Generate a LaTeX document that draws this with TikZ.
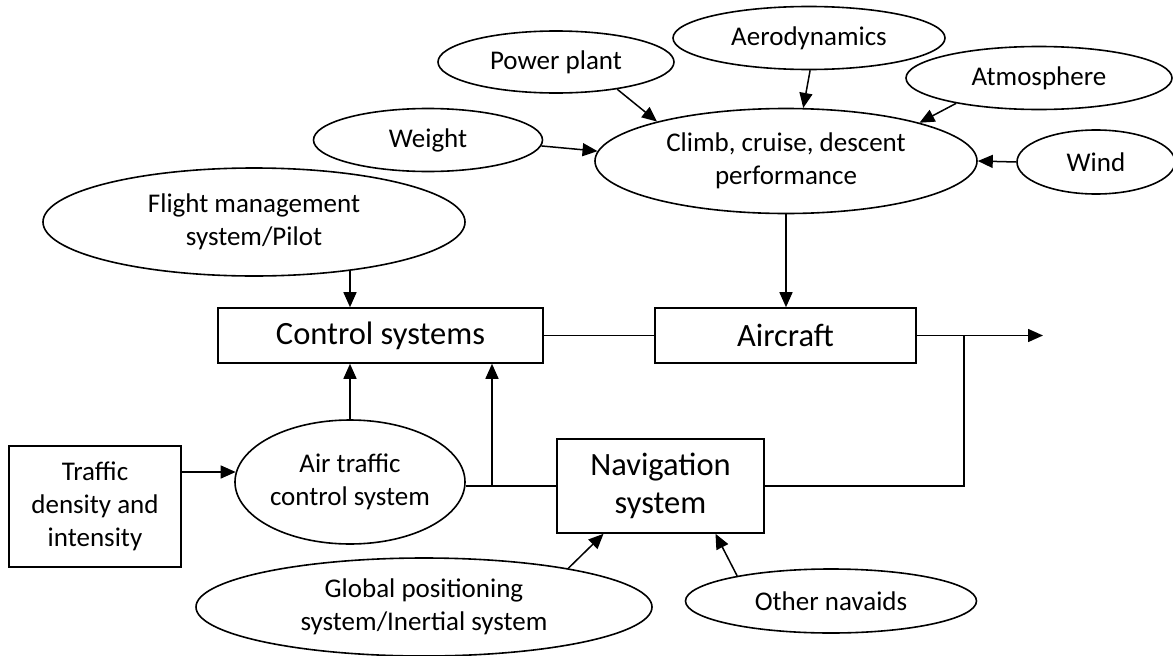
\documentclass[tikz,border=0pt]{standalone}
\usepackage{fontspec}
\setmainfont{Carlito}
\usetikzlibrary{shapes.geometric,arrows.meta}
\begin{document}
\begin{tikzpicture}[x=1pt,y=-1pt,
  ell/.style={ellipse,draw,line width=1.6pt,inner sep=0pt,align=center,font=\fontsize{27}{33}\selectfont},
  box/.style={rectangle,draw,line width=1.6pt,inner sep=0pt,align=center},
  small/.style={font=\fontsize{27}{33}\selectfont},
  big/.style={font=\fontsize{32.5}{38}\selectfont},
  arr/.style={line width=1.5pt,-{Triangle[length=15pt,width=13pt]}},
  ln/.style={line width=1.5pt}]
\useasboundingbox (0,0) rectangle (1173,656);
% ellipses
\node[ell,minimum width=236pt,minimum height=62pt] (pp) at (556,62) {Power plant};
\node[ell,minimum width=272pt,minimum height=63pt] (aero) at (809,38) {Aerodynamics};
\node[ell,minimum width=266pt,minimum height=63pt] (atmo) at (1039,78) {Atmosphere};
\node[ell,minimum width=382pt,minimum height=105pt] (climb) at (786,161) {Climb, cruise, descent\\performance};
\node[ell,minimum width=229pt,minimum height=63pt] (weight) at (428,140) {Weight};
\node[ell,minimum width=158pt,minimum height=64pt] (wind) at (1096,162) {Wind};
\node[ell,minimum width=422pt,minimum height=108pt] (fms) at (254,222) {Flight management\\system/Pilot};
\node[ell,minimum width=230pt,minimum height=124pt] (atc) at (350,482) {Air traffic\\control system};
\node[ell,minimum width=456pt,minimum height=98pt] (gps) at (424,607) {Global positioning\\system/Inertial system};
\node[ell,minimum width=291pt,minimum height=64pt] (other) at (831,601) {Other navaids};
% boxes
\node[box,big,minimum width=325pt,minimum height=55pt] (ctrl) at (380.5,335.5) {Control systems};
\node[box,big,minimum width=261pt,minimum height=55pt] (air) at (785.5,335.5) {Aircraft};
\node[box,big,minimum width=207pt,minimum height=94pt] (nav) at (660.5,486) {Navigation\\system};
\node[box,small,minimum width=172pt,minimum height=121pt] (traffic) at (95,506.5) {Traffic\\density and\\intensity};
% helper points
\coordinate (j1) at (492,486);
\coordinate (j2) at (964,336);
\coordinate (out) at (1043,336);
\path (fms.-26) coordinate (f1);
% connectors
\draw[arr] (pp.-24) -- (climb.163);
\draw[arr] (aero.-88) -- (climb.72);
\draw[arr] (atmo.-163) -- (climb.16);
\draw[arr] (wind.west) -- (climb.east);
\draw[arr] (weight.-3) -- (climb.177);
\draw[arr] (climb.south) -- (climb.south |- air.north);
\draw[arr] (f1 -| atc.north) -- (atc.north |- ctrl.north);
\draw[arr] (atc.north) -- (atc.north |- ctrl.south);
\draw[ln] (atc.east |- nav.west) -- (nav.west);
\draw[arr] (j1) -- (j1 |- ctrl.south);
\draw[ln] (ctrl.east) -- (air.west);
\draw[arr] (air.east) -- (air.east -| out);
\draw[ln] (nav.east) -| (j2);
\draw[arr] (traffic.east |- atc.175) -- (atc.175);
\draw[arr] (gps.15) -- (nav.-140);
\draw[arr] (other.165) -- (nav.-41);
\end{tikzpicture}
\end{document}
